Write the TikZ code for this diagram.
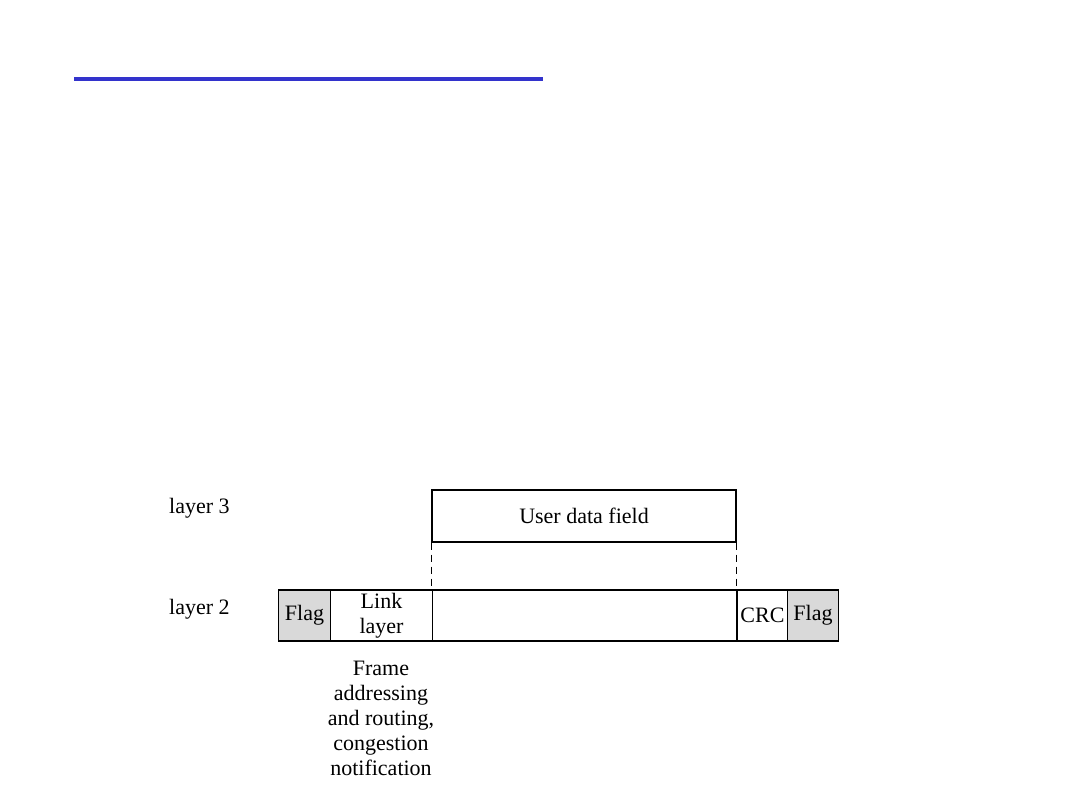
\documentclass[tikz,border=0pt]{standalone}
\usepackage{fontspec}
\setmainfont{Liberation Serif}
\begin{document}
\begin{tikzpicture}[x=1pt,y=-1pt,
  field/.style={draw=black,line width=1.2pt,inner sep=0pt,font=\fontsize{22}{25}\selectfont,align=center},
  flagbox/.style={field,fill=black!15},
  lbl/.style={font=\fontsize{22}{25}\selectfont,inner sep=0pt,align=center},
  guide/.style={line width=1.3pt,dash pattern=on 7pt off 5pt}]
\useasboundingbox (0,0) rectangle (1080,810);
\draw[line width=4pt,draw={rgb,255:red,51;green,51;blue,204}] (74,79) -- (543,79);
\node[lbl,anchor=west] (l3) at (169,508) {layer 3};
\node[lbl,anchor=west] (l2) at (169,609) {layer 2};
\node[field,minimum width=304pt,minimum height=52pt] (ud) at (584,516) {User data field};
\node[flagbox,minimum width=52pt,minimum height=51pt] (f1) at (304.5,615.5) {Flag};
\node[field,minimum width=102pt,minimum height=51pt] (ll) at (381.5,615.5) {Link\\layer};
\node[field,minimum width=305pt,minimum height=51pt] (dat) at (585,615.5) {};
\node[field,minimum width=51pt,minimum height=51pt] (crc) at (762.5,615.5) {CRC};
\node[flagbox,minimum width=51pt,minimum height=51pt] (f2) at (813,615.5) {Flag};
\node[lbl,anchor=north] (note) at (381,661) {Frame\\addressing\\and routing,\\congestion\\notification};
\draw[guide] (ud.south west) -- (ud.south west |- dat.north);
\draw[guide] (ud.south east) -- (ud.south east |- dat.north);
\end{tikzpicture}
\end{document}
